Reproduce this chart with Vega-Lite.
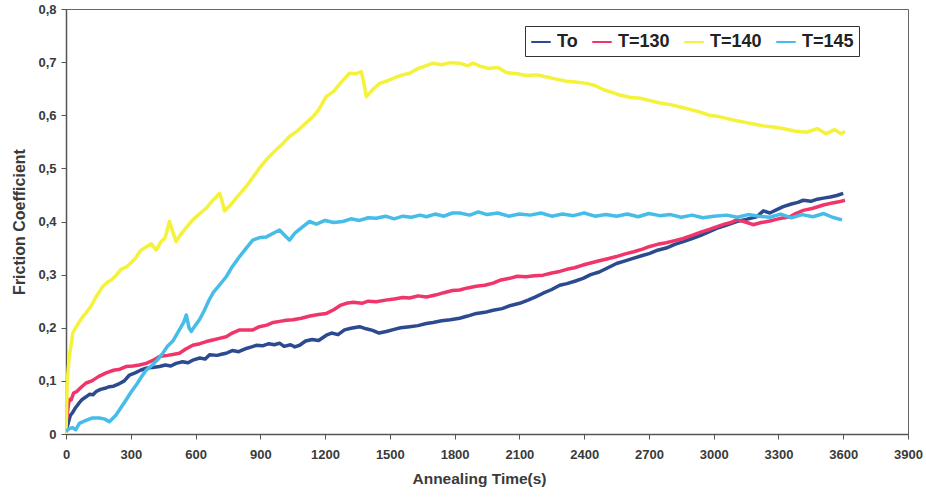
{
  "$schema": "https://vega.github.io/schema/vega-lite/v6.json",
  "autosize": {"type": "none"},
  "padding": {"left": 66, "top": 9, "right": 18, "bottom": 65},
  "width": 842,
  "height": 425,
  "background": "white",
  "config": {
    "font": "Liberation Sans",
    "view": {"stroke": "#666666", "strokeWidth": 1}
  },
  "datasets": {
    "friction": [
      {"t": 0, "v": 0.005, "s": "To"}, {"t": 10, "v": 0.02, "s": "To"}, {"t": 20, "v": 0.035, "s": "To"}, {"t": 30, "v": 0.04, "s": "To"}, {"t": 45, "v": 0.05, "s": "To"}, {"t": 60, "v": 0.058, "s": "To"}, {"t": 75, "v": 0.065, "s": "To"}, {"t": 93, "v": 0.07, "s": "To"}, {"t": 110, "v": 0.075, "s": "To"}, {"t": 125, "v": 0.074, "s": "To"}, {"t": 140, "v": 0.08, "s": "To"}, {"t": 160, "v": 0.084, "s": "To"}, {"t": 180, "v": 0.086, "s": "To"}, {"t": 201, "v": 0.089, "s": "To"}, {"t": 220, "v": 0.09, "s": "To"}, {"t": 248, "v": 0.095, "s": "To"}, {"t": 270, "v": 0.1, "s": "To"}, {"t": 294, "v": 0.111, "s": "To"}, {"t": 320, "v": 0.115, "s": "To"}, {"t": 345, "v": 0.12, "s": "To"}, {"t": 371, "v": 0.124, "s": "To"}, {"t": 400, "v": 0.125, "s": "To"}, {"t": 433, "v": 0.127, "s": "To"}, {"t": 460, "v": 0.13, "s": "To"}, {"t": 485, "v": 0.128, "s": "To"}, {"t": 510, "v": 0.133, "s": "To"}, {"t": 540, "v": 0.136, "s": "To"}, {"t": 565, "v": 0.134, "s": "To"}, {"t": 587, "v": 0.139, "s": "To"}, {"t": 620, "v": 0.143, "s": "To"}, {"t": 645, "v": 0.141, "s": "To"}, {"t": 665, "v": 0.149, "s": "To"}, {"t": 700, "v": 0.148, "s": "To"}, {"t": 720, "v": 0.15, "s": "To"}, {"t": 742, "v": 0.152, "s": "To"}, {"t": 770, "v": 0.157, "s": "To"}, {"t": 800, "v": 0.155, "s": "To"}, {"t": 835, "v": 0.161, "s": "To"}, {"t": 860, "v": 0.164, "s": "To"}, {"t": 881, "v": 0.167, "s": "To"}, {"t": 910, "v": 0.166, "s": "To"}, {"t": 940, "v": 0.17, "s": "To"}, {"t": 965, "v": 0.168, "s": "To"}, {"t": 989, "v": 0.171, "s": "To"}, {"t": 1010, "v": 0.165, "s": "To"}, {"t": 1040, "v": 0.168, "s": "To"}, {"t": 1060, "v": 0.164, "s": "To"}, {"t": 1082, "v": 0.167, "s": "To"}, {"t": 1110, "v": 0.175, "s": "To"}, {"t": 1140, "v": 0.178, "s": "To"}, {"t": 1170, "v": 0.176, "s": "To"}, {"t": 1206, "v": 0.186, "s": "To"}, {"t": 1230, "v": 0.19, "s": "To"}, {"t": 1260, "v": 0.187, "s": "To"}, {"t": 1290, "v": 0.196, "s": "To"}, {"t": 1320, "v": 0.199, "s": "To"}, {"t": 1360, "v": 0.202, "s": "To"}, {"t": 1390, "v": 0.198, "s": "To"}, {"t": 1420, "v": 0.195, "s": "To"}, {"t": 1450, "v": 0.19, "s": "To"}, {"t": 1484, "v": 0.193, "s": "To"}, {"t": 1520, "v": 0.197, "s": "To"}, {"t": 1550, "v": 0.2, "s": "To"}, {"t": 1592, "v": 0.202, "s": "To"}, {"t": 1630, "v": 0.204, "s": "To"}, {"t": 1669, "v": 0.208, "s": "To"}, {"t": 1700, "v": 0.21, "s": "To"}, {"t": 1740, "v": 0.213, "s": "To"}, {"t": 1780, "v": 0.215, "s": "To"}, {"t": 1823, "v": 0.218, "s": "To"}, {"t": 1860, "v": 0.222, "s": "To"}, {"t": 1901, "v": 0.227, "s": "To"}, {"t": 1940, "v": 0.229, "s": "To"}, {"t": 1978, "v": 0.233, "s": "To"}, {"t": 2020, "v": 0.236, "s": "To"}, {"t": 2060, "v": 0.242, "s": "To"}, {"t": 2101, "v": 0.246, "s": "To"}, {"t": 2140, "v": 0.252, "s": "To"}, {"t": 2175, "v": 0.258, "s": "To"}, {"t": 2210, "v": 0.265, "s": "To"}, {"t": 2250, "v": 0.272, "s": "To"}, {"t": 2287, "v": 0.28, "s": "To"}, {"t": 2320, "v": 0.283, "s": "To"}, {"t": 2360, "v": 0.288, "s": "To"}, {"t": 2395, "v": 0.293, "s": "To"}, {"t": 2430, "v": 0.3, "s": "To"}, {"t": 2470, "v": 0.305, "s": "To"}, {"t": 2510, "v": 0.313, "s": "To"}, {"t": 2550, "v": 0.321, "s": "To"}, {"t": 2590, "v": 0.326, "s": "To"}, {"t": 2630, "v": 0.331, "s": "To"}, {"t": 2670, "v": 0.336, "s": "To"}, {"t": 2704, "v": 0.34, "s": "To"}, {"t": 2740, "v": 0.346, "s": "To"}, {"t": 2780, "v": 0.35, "s": "To"}, {"t": 2820, "v": 0.357, "s": "To"}, {"t": 2859, "v": 0.362, "s": "To"}, {"t": 2900, "v": 0.368, "s": "To"}, {"t": 2940, "v": 0.374, "s": "To"}, {"t": 2980, "v": 0.381, "s": "To"}, {"t": 3013, "v": 0.387, "s": "To"}, {"t": 3050, "v": 0.392, "s": "To"}, {"t": 3080, "v": 0.396, "s": "To"}, {"t": 3106, "v": 0.4, "s": "To"}, {"t": 3150, "v": 0.404, "s": "To"}, {"t": 3199, "v": 0.409, "s": "To"}, {"t": 3230, "v": 0.42, "s": "To"}, {"t": 3260, "v": 0.416, "s": "To"}, {"t": 3290, "v": 0.422, "s": "To"}, {"t": 3322, "v": 0.428, "s": "To"}, {"t": 3360, "v": 0.433, "s": "To"}, {"t": 3390, "v": 0.436, "s": "To"}, {"t": 3415, "v": 0.44, "s": "To"}, {"t": 3450, "v": 0.438, "s": "To"}, {"t": 3480, "v": 0.442, "s": "To"}, {"t": 3508, "v": 0.444, "s": "To"}, {"t": 3540, "v": 0.446, "s": "To"}, {"t": 3570, "v": 0.449, "s": "To"}, {"t": 3600, "v": 0.453, "s": "To"},

      {"t": 0, "v": 0.02, "s": "T=130"}, {"t": 8, "v": 0.045, "s": "T=130"}, {"t": 15, "v": 0.065, "s": "T=130"}, {"t": 24, "v": 0.064, "s": "T=130"}, {"t": 35, "v": 0.077, "s": "T=130"}, {"t": 50, "v": 0.08, "s": "T=130"}, {"t": 70, "v": 0.088, "s": "T=130"}, {"t": 93, "v": 0.096, "s": "T=130"}, {"t": 120, "v": 0.1, "s": "T=130"}, {"t": 150, "v": 0.108, "s": "T=130"}, {"t": 186, "v": 0.115, "s": "T=130"}, {"t": 220, "v": 0.12, "s": "T=130"}, {"t": 250, "v": 0.122, "s": "T=130"}, {"t": 278, "v": 0.127, "s": "T=130"}, {"t": 310, "v": 0.128, "s": "T=130"}, {"t": 340, "v": 0.13, "s": "T=130"}, {"t": 371, "v": 0.133, "s": "T=130"}, {"t": 400, "v": 0.138, "s": "T=130"}, {"t": 433, "v": 0.146, "s": "T=130"}, {"t": 470, "v": 0.148, "s": "T=130"}, {"t": 500, "v": 0.15, "s": "T=130"}, {"t": 525, "v": 0.152, "s": "T=130"}, {"t": 555, "v": 0.16, "s": "T=130"}, {"t": 587, "v": 0.167, "s": "T=130"}, {"t": 620, "v": 0.17, "s": "T=130"}, {"t": 650, "v": 0.174, "s": "T=130"}, {"t": 680, "v": 0.177, "s": "T=130"}, {"t": 710, "v": 0.18, "s": "T=130"}, {"t": 742, "v": 0.183, "s": "T=130"}, {"t": 770, "v": 0.19, "s": "T=130"}, {"t": 804, "v": 0.196, "s": "T=130"}, {"t": 835, "v": 0.196, "s": "T=130"}, {"t": 865, "v": 0.196, "s": "T=130"}, {"t": 896, "v": 0.202, "s": "T=130"}, {"t": 930, "v": 0.205, "s": "T=130"}, {"t": 960, "v": 0.21, "s": "T=130"}, {"t": 990, "v": 0.212, "s": "T=130"}, {"t": 1020, "v": 0.214, "s": "T=130"}, {"t": 1051, "v": 0.215, "s": "T=130"}, {"t": 1090, "v": 0.218, "s": "T=130"}, {"t": 1130, "v": 0.222, "s": "T=130"}, {"t": 1170, "v": 0.225, "s": "T=130"}, {"t": 1206, "v": 0.227, "s": "T=130"}, {"t": 1240, "v": 0.234, "s": "T=130"}, {"t": 1270, "v": 0.242, "s": "T=130"}, {"t": 1298, "v": 0.246, "s": "T=130"}, {"t": 1330, "v": 0.248, "s": "T=130"}, {"t": 1370, "v": 0.246, "s": "T=130"}, {"t": 1400, "v": 0.25, "s": "T=130"}, {"t": 1437, "v": 0.249, "s": "T=130"}, {"t": 1480, "v": 0.252, "s": "T=130"}, {"t": 1520, "v": 0.254, "s": "T=130"}, {"t": 1560, "v": 0.257, "s": "T=130"}, {"t": 1592, "v": 0.256, "s": "T=130"}, {"t": 1630, "v": 0.26, "s": "T=130"}, {"t": 1670, "v": 0.258, "s": "T=130"}, {"t": 1715, "v": 0.262, "s": "T=130"}, {"t": 1750, "v": 0.266, "s": "T=130"}, {"t": 1790, "v": 0.27, "s": "T=130"}, {"t": 1823, "v": 0.271, "s": "T=130"}, {"t": 1860, "v": 0.275, "s": "T=130"}, {"t": 1900, "v": 0.278, "s": "T=130"}, {"t": 1940, "v": 0.28, "s": "T=130"}, {"t": 1978, "v": 0.284, "s": "T=130"}, {"t": 2015, "v": 0.29, "s": "T=130"}, {"t": 2055, "v": 0.293, "s": "T=130"}, {"t": 2090, "v": 0.297, "s": "T=130"}, {"t": 2130, "v": 0.296, "s": "T=130"}, {"t": 2170, "v": 0.298, "s": "T=130"}, {"t": 2210, "v": 0.299, "s": "T=130"}, {"t": 2250, "v": 0.303, "s": "T=130"}, {"t": 2287, "v": 0.306, "s": "T=130"}, {"t": 2320, "v": 0.31, "s": "T=130"}, {"t": 2355, "v": 0.313, "s": "T=130"}, {"t": 2394, "v": 0.318, "s": "T=130"}, {"t": 2430, "v": 0.322, "s": "T=130"}, {"t": 2470, "v": 0.326, "s": "T=130"}, {"t": 2510, "v": 0.33, "s": "T=130"}, {"t": 2550, "v": 0.334, "s": "T=130"}, {"t": 2590, "v": 0.339, "s": "T=130"}, {"t": 2630, "v": 0.343, "s": "T=130"}, {"t": 2670, "v": 0.348, "s": "T=130"}, {"t": 2704, "v": 0.353, "s": "T=130"}, {"t": 2740, "v": 0.357, "s": "T=130"}, {"t": 2780, "v": 0.36, "s": "T=130"}, {"t": 2820, "v": 0.364, "s": "T=130"}, {"t": 2859, "v": 0.368, "s": "T=130"}, {"t": 2900, "v": 0.374, "s": "T=130"}, {"t": 2940, "v": 0.38, "s": "T=130"}, {"t": 2980, "v": 0.385, "s": "T=130"}, {"t": 3013, "v": 0.39, "s": "T=130"}, {"t": 3050, "v": 0.395, "s": "T=130"}, {"t": 3080, "v": 0.398, "s": "T=130"}, {"t": 3106, "v": 0.403, "s": "T=130"}, {"t": 3140, "v": 0.4, "s": "T=130"}, {"t": 3183, "v": 0.394, "s": "T=130"}, {"t": 3220, "v": 0.398, "s": "T=130"}, {"t": 3260, "v": 0.401, "s": "T=130"}, {"t": 3300, "v": 0.405, "s": "T=130"}, {"t": 3353, "v": 0.409, "s": "T=130"}, {"t": 3380, "v": 0.415, "s": "T=130"}, {"t": 3415, "v": 0.421, "s": "T=130"}, {"t": 3460, "v": 0.425, "s": "T=130"}, {"t": 3508, "v": 0.431, "s": "T=130"}, {"t": 3550, "v": 0.435, "s": "T=130"}, {"t": 3580, "v": 0.437, "s": "T=130"}, {"t": 3608, "v": 0.44, "s": "T=130"},

      {"t": 0, "v": 0.0, "s": "T=140"}, {"t": 3, "v": 0.05, "s": "T=140"}, {"t": 6, "v": 0.1, "s": "T=140"}, {"t": 10, "v": 0.12, "s": "T=140"}, {"t": 16, "v": 0.15, "s": "T=140"}, {"t": 25, "v": 0.17, "s": "T=140"}, {"t": 31, "v": 0.19, "s": "T=140"}, {"t": 45, "v": 0.2, "s": "T=140"}, {"t": 60, "v": 0.21, "s": "T=140"}, {"t": 76, "v": 0.22, "s": "T=140"}, {"t": 93, "v": 0.228, "s": "T=140"}, {"t": 115, "v": 0.24, "s": "T=140"}, {"t": 135, "v": 0.255, "s": "T=140"}, {"t": 150, "v": 0.265, "s": "T=140"}, {"t": 169, "v": 0.277, "s": "T=140"}, {"t": 190, "v": 0.285, "s": "T=140"}, {"t": 210, "v": 0.29, "s": "T=140"}, {"t": 235, "v": 0.3, "s": "T=140"}, {"t": 255, "v": 0.31, "s": "T=140"}, {"t": 278, "v": 0.314, "s": "T=140"}, {"t": 300, "v": 0.322, "s": "T=140"}, {"t": 320, "v": 0.33, "s": "T=140"}, {"t": 345, "v": 0.345, "s": "T=140"}, {"t": 371, "v": 0.352, "s": "T=140"}, {"t": 395, "v": 0.358, "s": "T=140"}, {"t": 418, "v": 0.346, "s": "T=140"}, {"t": 440, "v": 0.362, "s": "T=140"}, {"t": 460, "v": 0.37, "s": "T=140"}, {"t": 479, "v": 0.4, "s": "T=140"}, {"t": 495, "v": 0.38, "s": "T=140"}, {"t": 510, "v": 0.362, "s": "T=140"}, {"t": 530, "v": 0.375, "s": "T=140"}, {"t": 560, "v": 0.39, "s": "T=140"}, {"t": 587, "v": 0.403, "s": "T=140"}, {"t": 620, "v": 0.415, "s": "T=140"}, {"t": 650, "v": 0.425, "s": "T=140"}, {"t": 680, "v": 0.44, "s": "T=140"}, {"t": 700, "v": 0.448, "s": "T=140"}, {"t": 711, "v": 0.453, "s": "T=140"}, {"t": 722, "v": 0.44, "s": "T=140"}, {"t": 734, "v": 0.42, "s": "T=140"}, {"t": 760, "v": 0.43, "s": "T=140"}, {"t": 790, "v": 0.445, "s": "T=140"}, {"t": 835, "v": 0.466, "s": "T=140"}, {"t": 860, "v": 0.48, "s": "T=140"}, {"t": 895, "v": 0.5, "s": "T=140"}, {"t": 927, "v": 0.516, "s": "T=140"}, {"t": 960, "v": 0.53, "s": "T=140"}, {"t": 1000, "v": 0.545, "s": "T=140"}, {"t": 1035, "v": 0.56, "s": "T=140"}, {"t": 1070, "v": 0.57, "s": "T=140"}, {"t": 1105, "v": 0.583, "s": "T=140"}, {"t": 1143, "v": 0.597, "s": "T=140"}, {"t": 1170, "v": 0.61, "s": "T=140"}, {"t": 1205, "v": 0.635, "s": "T=140"}, {"t": 1240, "v": 0.645, "s": "T=140"}, {"t": 1270, "v": 0.66, "s": "T=140"}, {"t": 1313, "v": 0.679, "s": "T=140"}, {"t": 1340, "v": 0.678, "s": "T=140"}, {"t": 1368, "v": 0.682, "s": "T=140"}, {"t": 1380, "v": 0.66, "s": "T=140"}, {"t": 1391, "v": 0.635, "s": "T=140"}, {"t": 1420, "v": 0.648, "s": "T=140"}, {"t": 1453, "v": 0.66, "s": "T=140"}, {"t": 1490, "v": 0.665, "s": "T=140"}, {"t": 1530, "v": 0.672, "s": "T=140"}, {"t": 1560, "v": 0.676, "s": "T=140"}, {"t": 1592, "v": 0.679, "s": "T=140"}, {"t": 1630, "v": 0.688, "s": "T=140"}, {"t": 1660, "v": 0.692, "s": "T=140"}, {"t": 1700, "v": 0.698, "s": "T=140"}, {"t": 1740, "v": 0.695, "s": "T=140"}, {"t": 1780, "v": 0.699, "s": "T=140"}, {"t": 1823, "v": 0.698, "s": "T=140"}, {"t": 1860, "v": 0.693, "s": "T=140"}, {"t": 1885, "v": 0.698, "s": "T=140"}, {"t": 1920, "v": 0.692, "s": "T=140"}, {"t": 1960, "v": 0.688, "s": "T=140"}, {"t": 2000, "v": 0.69, "s": "T=140"}, {"t": 2042, "v": 0.68, "s": "T=140"}, {"t": 2090, "v": 0.678, "s": "T=140"}, {"t": 2130, "v": 0.675, "s": "T=140"}, {"t": 2180, "v": 0.676, "s": "T=140"}, {"t": 2227, "v": 0.672, "s": "T=140"}, {"t": 2270, "v": 0.668, "s": "T=140"}, {"t": 2320, "v": 0.664, "s": "T=140"}, {"t": 2370, "v": 0.662, "s": "T=140"}, {"t": 2412, "v": 0.66, "s": "T=140"}, {"t": 2450, "v": 0.656, "s": "T=140"}, {"t": 2490, "v": 0.648, "s": "T=140"}, {"t": 2530, "v": 0.643, "s": "T=140"}, {"t": 2565, "v": 0.638, "s": "T=140"}, {"t": 2610, "v": 0.634, "s": "T=140"}, {"t": 2660, "v": 0.632, "s": "T=140"}, {"t": 2710, "v": 0.627, "s": "T=140"}, {"t": 2751, "v": 0.623, "s": "T=140"}, {"t": 2800, "v": 0.62, "s": "T=140"}, {"t": 2850, "v": 0.615, "s": "T=140"}, {"t": 2890, "v": 0.611, "s": "T=140"}, {"t": 2936, "v": 0.606, "s": "T=140"}, {"t": 2980, "v": 0.6, "s": "T=140"}, {"t": 3030, "v": 0.597, "s": "T=140"}, {"t": 3090, "v": 0.591, "s": "T=140"}, {"t": 3140, "v": 0.587, "s": "T=140"}, {"t": 3190, "v": 0.583, "s": "T=140"}, {"t": 3230, "v": 0.58, "s": "T=140"}, {"t": 3275, "v": 0.578, "s": "T=140"}, {"t": 3320, "v": 0.575, "s": "T=140"}, {"t": 3380, "v": 0.57, "s": "T=140"}, {"t": 3431, "v": 0.568, "s": "T=140"}, {"t": 3480, "v": 0.575, "s": "T=140"}, {"t": 3520, "v": 0.565, "s": "T=140"}, {"t": 3560, "v": 0.573, "s": "T=140"}, {"t": 3590, "v": 0.565, "s": "T=140"}, {"t": 3608, "v": 0.57, "s": "T=140"},

      {"t": 0, "v": 0.005, "s": "T=145"}, {"t": 15, "v": 0.01, "s": "T=145"}, {"t": 30, "v": 0.012, "s": "T=145"}, {"t": 45, "v": 0.008, "s": "T=145"}, {"t": 62, "v": 0.02, "s": "T=145"}, {"t": 90, "v": 0.025, "s": "T=145"}, {"t": 120, "v": 0.03, "s": "T=145"}, {"t": 155, "v": 0.03, "s": "T=145"}, {"t": 180, "v": 0.028, "s": "T=145"}, {"t": 201, "v": 0.023, "s": "T=145"}, {"t": 230, "v": 0.035, "s": "T=145"}, {"t": 255, "v": 0.05, "s": "T=145"}, {"t": 278, "v": 0.064, "s": "T=145"}, {"t": 300, "v": 0.078, "s": "T=145"}, {"t": 330, "v": 0.095, "s": "T=145"}, {"t": 350, "v": 0.108, "s": "T=145"}, {"t": 371, "v": 0.12, "s": "T=145"}, {"t": 400, "v": 0.13, "s": "T=145"}, {"t": 425, "v": 0.14, "s": "T=145"}, {"t": 448, "v": 0.152, "s": "T=145"}, {"t": 470, "v": 0.165, "s": "T=145"}, {"t": 495, "v": 0.175, "s": "T=145"}, {"t": 525, "v": 0.196, "s": "T=145"}, {"t": 545, "v": 0.21, "s": "T=145"}, {"t": 557, "v": 0.224, "s": "T=145"}, {"t": 570, "v": 0.2, "s": "T=145"}, {"t": 580, "v": 0.193, "s": "T=145"}, {"t": 600, "v": 0.205, "s": "T=145"}, {"t": 618, "v": 0.215, "s": "T=145"}, {"t": 640, "v": 0.232, "s": "T=145"}, {"t": 660, "v": 0.25, "s": "T=145"}, {"t": 680, "v": 0.265, "s": "T=145"}, {"t": 710, "v": 0.28, "s": "T=145"}, {"t": 742, "v": 0.296, "s": "T=145"}, {"t": 770, "v": 0.315, "s": "T=145"}, {"t": 804, "v": 0.334, "s": "T=145"}, {"t": 835, "v": 0.35, "s": "T=145"}, {"t": 865, "v": 0.365, "s": "T=145"}, {"t": 900, "v": 0.37, "s": "T=145"}, {"t": 928, "v": 0.371, "s": "T=145"}, {"t": 960, "v": 0.378, "s": "T=145"}, {"t": 989, "v": 0.384, "s": "T=145"}, {"t": 1010, "v": 0.375, "s": "T=145"}, {"t": 1035, "v": 0.365, "s": "T=145"}, {"t": 1060, "v": 0.378, "s": "T=145"}, {"t": 1090, "v": 0.388, "s": "T=145"}, {"t": 1128, "v": 0.4, "s": "T=145"}, {"t": 1160, "v": 0.395, "s": "T=145"}, {"t": 1200, "v": 0.402, "s": "T=145"}, {"t": 1240, "v": 0.398, "s": "T=145"}, {"t": 1282, "v": 0.4, "s": "T=145"}, {"t": 1320, "v": 0.405, "s": "T=145"}, {"t": 1360, "v": 0.402, "s": "T=145"}, {"t": 1400, "v": 0.407, "s": "T=145"}, {"t": 1437, "v": 0.406, "s": "T=145"}, {"t": 1480, "v": 0.41, "s": "T=145"}, {"t": 1520, "v": 0.405, "s": "T=145"}, {"t": 1560, "v": 0.41, "s": "T=145"}, {"t": 1600, "v": 0.408, "s": "T=145"}, {"t": 1640, "v": 0.412, "s": "T=145"}, {"t": 1669, "v": 0.409, "s": "T=145"}, {"t": 1710, "v": 0.414, "s": "T=145"}, {"t": 1750, "v": 0.41, "s": "T=145"}, {"t": 1790, "v": 0.416, "s": "T=145"}, {"t": 1823, "v": 0.416, "s": "T=145"}, {"t": 1870, "v": 0.412, "s": "T=145"}, {"t": 1910, "v": 0.418, "s": "T=145"}, {"t": 1950, "v": 0.413, "s": "T=145"}, {"t": 2000, "v": 0.416, "s": "T=145"}, {"t": 2050, "v": 0.41, "s": "T=145"}, {"t": 2100, "v": 0.414, "s": "T=145"}, {"t": 2150, "v": 0.412, "s": "T=145"}, {"t": 2200, "v": 0.416, "s": "T=145"}, {"t": 2250, "v": 0.41, "s": "T=145"}, {"t": 2300, "v": 0.414, "s": "T=145"}, {"t": 2350, "v": 0.411, "s": "T=145"}, {"t": 2400, "v": 0.416, "s": "T=145"}, {"t": 2450, "v": 0.41, "s": "T=145"}, {"t": 2500, "v": 0.413, "s": "T=145"}, {"t": 2550, "v": 0.41, "s": "T=145"}, {"t": 2600, "v": 0.414, "s": "T=145"}, {"t": 2650, "v": 0.409, "s": "T=145"}, {"t": 2700, "v": 0.415, "s": "T=145"}, {"t": 2750, "v": 0.411, "s": "T=145"}, {"t": 2800, "v": 0.413, "s": "T=145"}, {"t": 2850, "v": 0.408, "s": "T=145"}, {"t": 2900, "v": 0.412, "s": "T=145"}, {"t": 2950, "v": 0.407, "s": "T=145"}, {"t": 3000, "v": 0.41, "s": "T=145"}, {"t": 3060, "v": 0.412, "s": "T=145"}, {"t": 3110, "v": 0.408, "s": "T=145"}, {"t": 3160, "v": 0.413, "s": "T=145"}, {"t": 3210, "v": 0.41, "s": "T=145"}, {"t": 3260, "v": 0.408, "s": "T=145"}, {"t": 3310, "v": 0.414, "s": "T=145"}, {"t": 3360, "v": 0.407, "s": "T=145"}, {"t": 3410, "v": 0.413, "s": "T=145"}, {"t": 3460, "v": 0.409, "s": "T=145"}, {"t": 3510, "v": 0.415, "s": "T=145"}, {"t": 3550, "v": 0.408, "s": "T=145"}, {"t": 3594, "v": 0.403, "s": "T=145"}
    ]
  },
  "data": {"name": "friction"},
  "mark": {"type": "line", "strokeWidth": 3.5, "strokeJoin": "round", "clip": true},
  "encoding": {
    "x": {
      "field": "t",
      "type": "quantitative",
      "scale": {"domain": [0, 3900], "nice": false, "zero": true},
      "axis": {
        "title": "Annealing Time(s)",
        "values": [0, 300, 600, 900, 1200, 1500, 1800, 2100, 2400, 2700, 3000, 3300, 3600, 3900],
        "format": "d",
        "grid": false,
        "domainColor": "#555555",
        "domainWidth": 1.5,
        "tickColor": "#555555",
        "tickSize": 5,
        "labelFont": "Liberation Sans",
        "labelFontWeight": "bold",
        "labelFontSize": 13,
        "labelColor": "#3a3a3a",
        "labelPadding": 9,
        "labelFlush": false,
        "titleFont": "Liberation Sans",
        "titleFontWeight": "bold",
        "titleFontSize": 15.5,
        "titleColor": "#3a3a3a",
        "titlePadding": 10,
        "titleX": 413
      }
    },
    "y": {
      "field": "v",
      "type": "quantitative",
      "scale": {"domain": [0, 0.8], "nice": false},
      "axis": {
        "title": "Friction Coefficient",
        "values": [0, 0.1, 0.2, 0.3, 0.4, 0.5, 0.6, 0.7, 0.8],
        "labelExpr": "datum.value == 0 ? '0' : replace(format(datum.value, '.1f'), '.', ',')",
        "grid": false,
        "domainColor": "#555555",
        "domainWidth": 1.5,
        "tickColor": "#555555",
        "tickSize": 5,
        "labelFont": "Liberation Sans",
        "labelFontWeight": "bold",
        "labelFontSize": 13,
        "labelColor": "#3a3a3a",
        "labelPadding": 5,
        "labelFlush": false,
        "titleFont": "Liberation Sans",
        "titleFontWeight": "bold",
        "titleFontSize": 16,
        "titleColor": "#3a3a3a",
        "titlePadding": 10
      }
    },
    "color": {
      "field": "s",
      "type": "nominal",
      "scale": {
        "domain": ["To", "T=130", "T=140", "T=145"],
        "range": ["#2b4a8f", "#f0356a", "#f4f23a", "#45bde8"]
      },
      "legend": {
        "title": null,
        "orient": "none",
        "legendX": 459,
        "legendY": 17,
        "direction": "horizontal",
        "symbolType": "stroke",
        "symbolStrokeWidth": 2,
        "symbolSize": 380,
        "labelFont": "Liberation Sans",
        "labelFontWeight": "bold",
        "labelFontSize": 18,
        "labelColor": "#222222",
        "labelOffset": 5,
        "columnPadding": 10,
        "padding": 5,
        "strokeColor": "#333333",
        "fillColor": "white"
      }
    }
  }
}
